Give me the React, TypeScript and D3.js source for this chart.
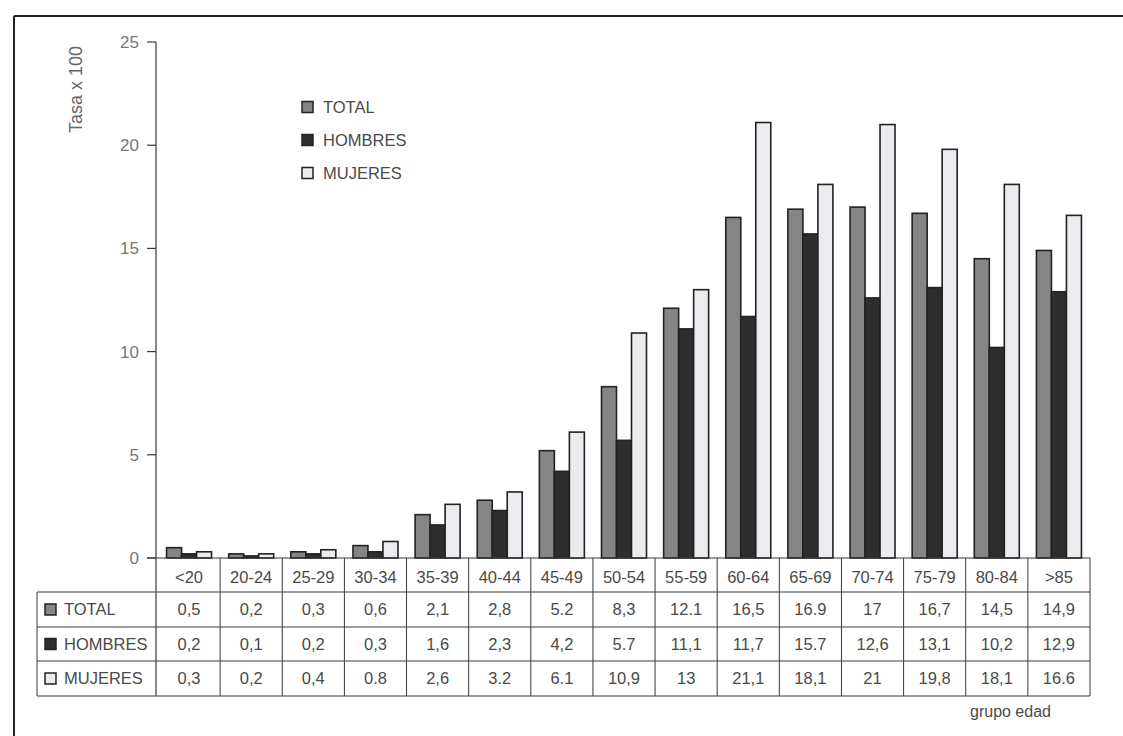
import React from "react";
import * as d3 from "d3";

const categories = ["<20", "20-24", "25-29", "30-34", "35-39", "40-44", "45-49", "50-54", "55-59", "60-64", "65-69", "70-74", "75-79", "80-84", ">85"];
const seriesNames = ["TOTAL", "HOMBRES", "MUJERES"];
const totalValues = [0.5, 0.2, 0.3, 0.6, 2.1, 2.8, 5.2, 8.3, 12.1, 16.5, 16.9, 17, 16.7, 14.5, 14.9];
const hombresValues = [0.2, 0.1, 0.2, 0.3, 1.6, 2.3, 4.2, 5.7, 11.1, 11.7, 15.7, 12.6, 13.1, 10.2, 12.9];
const mujeresValues = [0.3, 0.2, 0.4, 0.8, 2.6, 3.2, 6.1, 10.9, 13, 21.1, 18.1, 21, 19.8, 18.1, 16.6];
const tableLabels = [
  ["0,5", "0,2", "0,3", "0,6", "2,1", "2,8", "5.2", "8,3", "12.1", "16,5", "16.9", "17", "16,7", "14,5", "14,9"],
  ["0,2", "0,1", "0,2", "0,3", "1,6", "2,3", "4,2", "5.7", "11,1", "11,7", "15.7", "12,6", "13,1", "10,2", "12,9"],
  ["0,3", "0,2", "0,4", "0.8", "2,6", "3.2", "6.1", "10,9", "13", "21,1", "18,1", "21", "19,8", "18,1", "16.6"],
];
const yTicks = [0, 5, 10, 15, 20, 25];

const seriesValues = [totalValues, hombresValues, mujeresValues];
const colors = ["#858585", "#2e2e2e", "#ebebf0"];
const FONT = "Liberation Sans, Arial, sans-serif";
const TEXT = "#4a4a4a";
const LINE = "#3a3a3a";
const FS = 16.5;

export default function App() {
  const x = d3.scaleBand<string>().domain(categories).range([158, 1090]).padding(0);
  const groupW = 45;
  const sub = d3
    .scaleBand<string>()
    .domain(seriesNames)
    .range([(x.bandwidth() - groupW) / 2, (x.bandwidth() + groupW) / 2]);
  const y = d3.scaleLinear().domain([0, 25]).range([558, 42]);

  const labelTop = 558;
  const rowTops = [592, 627, 661];
  const tableBottom = 696;
  const legendLeft = 37;

  return (
    <svg
      width={1123}
      height={736}
      style={{ position: "fixed", left: 0, top: 0, background: "#fff" }}
      fontFamily={FONT}
    >
      {/* outer frame */}
      <line x1={14} y1={16} x2={1123} y2={16} stroke="#222" strokeWidth={2} />
      <line x1={14} y1={16} x2={14} y2={736} stroke="#222" strokeWidth={2} />

      {/* y axis */}
      <line x1={156} y1={y(25)} x2={156} y2={labelTop} stroke={LINE} strokeWidth={1.2} />
      {yTicks.map((t) => (
        <g key={t}>
          <line x1={147} x2={156} y1={y(t)} y2={y(t)} stroke={LINE} strokeWidth={1.2} />
          <text x={139} y={y(t)} dy="0.35em" textAnchor="end" fontSize={17} fill="#777">
            {t}
          </text>
        </g>
      ))}
      <text
        transform={`translate(82,${y(22.7)}) rotate(-90)`}
        textAnchor="middle"
        fontSize={18}
        fill="#666"
      >
        Tasa x 100
      </text>

      {/* bars */}
      {categories.map((c, i) => (
        <g key={c} transform={`translate(${x(c)},0)`}>
          {seriesNames.map((s, k) => (
            <rect
              key={s}
              x={sub(s)}
              y={y(seriesValues[k][i])}
              width={sub.bandwidth()}
              height={y(0) - y(seriesValues[k][i])}
              fill={colors[k]}
              stroke="#222"
              strokeWidth={1.6}
            />
          ))}
        </g>
      ))}

      {/* baseline */}
      <line x1={147} x2={1090} y1={labelTop} y2={labelTop} stroke={LINE} strokeWidth={1.2} />

      {/* legend */}
      {seriesNames.map((s, k) => (
        <g key={s} transform={`translate(302,${107 + k * 33})`}>
          <rect x={0} y={-5.5} width={11} height={11} fill={colors[k]} stroke="#222" strokeWidth={1.5} />
          <text x={21} y={0} dy="0.35em" fontSize={FS} fill={TEXT}>
            {s}
          </text>
        </g>
      ))}

      {/* table */}
      <line x1={156} x2={156} y1={labelTop} y2={tableBottom} stroke={LINE} strokeWidth={1.2} />
      {categories.map((c) => (
        <g key={c}>
          <line
            x1={(x(c) as number) + x.bandwidth()}
            x2={(x(c) as number) + x.bandwidth()}
            y1={labelTop}
            y2={tableBottom}
            stroke={LINE}
            strokeWidth={1}
          />
          <text
            x={(x(c) as number) + x.bandwidth() / 2}
            y={(labelTop + rowTops[0]) / 2 + 2}
            dy="0.35em"
            textAnchor="middle"
            fontSize={FS}
            fill={TEXT}
          >
            {c}
          </text>
        </g>
      ))}
      {rowTops.map((t) => (
        <line key={t} x1={legendLeft} x2={1090} y1={t} y2={t} stroke={LINE} strokeWidth={1} />
      ))}
      <line x1={legendLeft} x2={1090} y1={tableBottom} y2={tableBottom} stroke={LINE} strokeWidth={1} />
      <line x1={legendLeft} x2={legendLeft} y1={rowTops[0]} y2={tableBottom} stroke={LINE} strokeWidth={1} />
      {seriesNames.map((s, k) => {
        const top = rowTops[k];
        const bottom = k < 2 ? rowTops[k + 1] : tableBottom;
        const mid = (top + bottom) / 2;
        return (
          <g key={s}>
            <rect x={45} y={mid - 5.5} width={11} height={11} fill={colors[k]} stroke="#222" strokeWidth={1.5} />
            <text x={64} y={mid} dy="0.35em" fontSize={FS} fill={TEXT}>
              {s}
            </text>
            {categories.map((c, i) => (
              <text
                key={c}
                x={(x(c) as number) + x.bandwidth() / 2}
                y={mid}
                dy="0.35em"
                textAnchor="middle"
                fontSize={FS}
                fill={TEXT}
              >
                {tableLabels[k][i]}
              </text>
            ))}
          </g>
        );
      })}

      <text x={970} y={717} fontSize={16} fill={TEXT}>
        grupo edad
      </text>
    </svg>
  );
}
